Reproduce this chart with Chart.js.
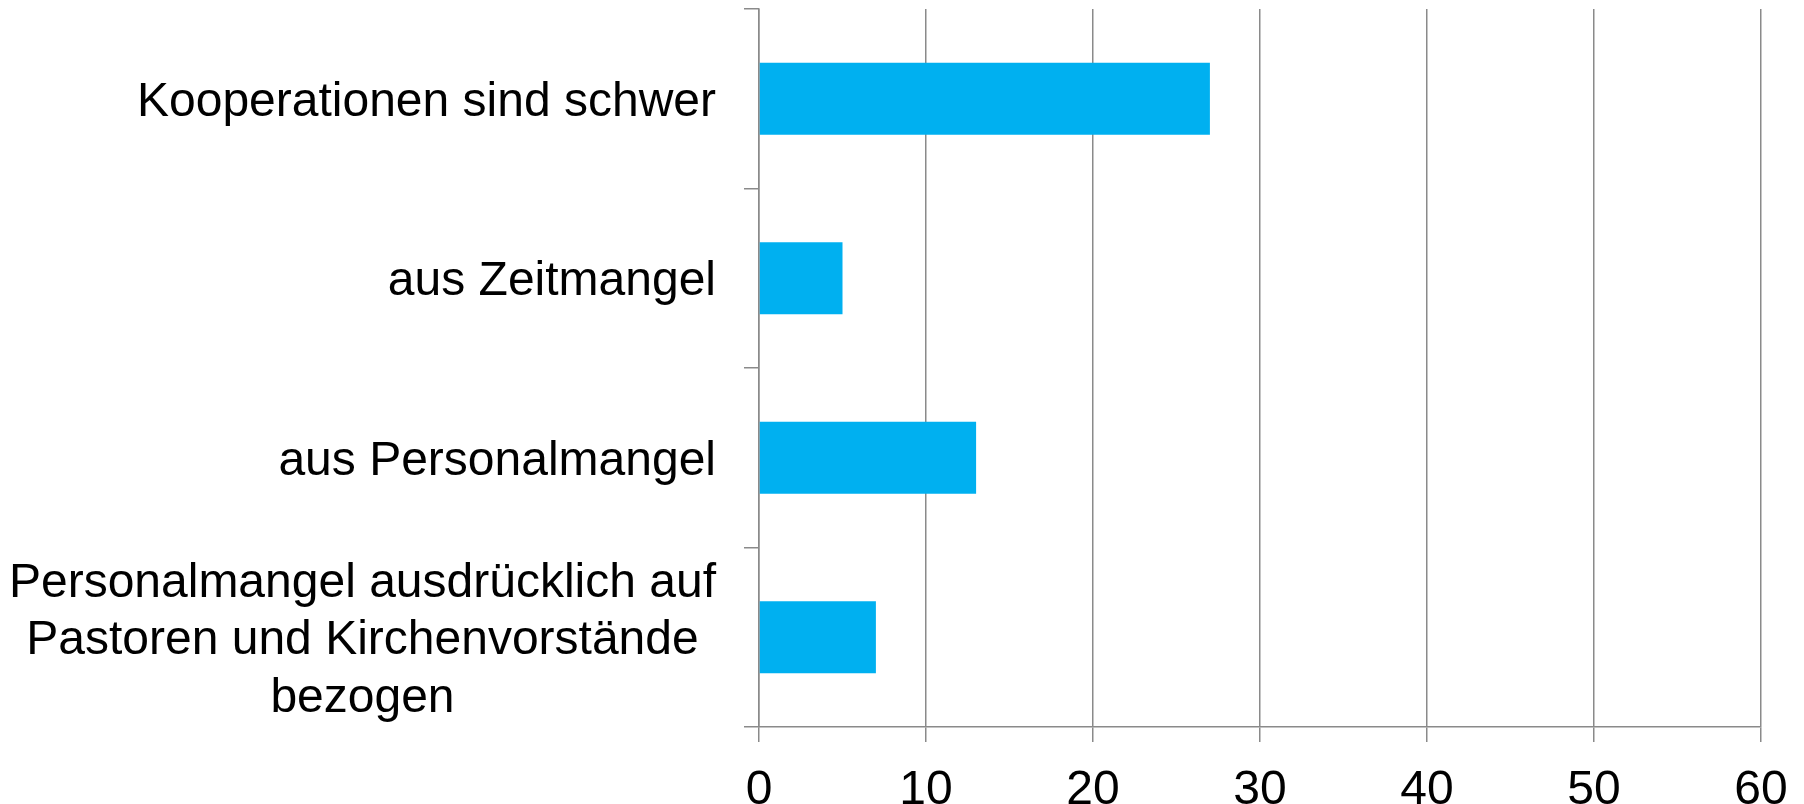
<!DOCTYPE html>
<html>
<head>
<meta charset="utf-8">
<script src="https://cdn.jsdelivr.net/npm/chart.js@4/dist/chart.umd.min.js"></script>
<style>
  html, body { margin: 0; padding: 0; background: #fff; }
  #wrap { width: 1804px; height: 804px; }
</style>
</head>
<body>
<div id="wrap"><canvas id="c" width="1804" height="804"></canvas></div>
<script>
const categories = [
  'Kooperationen sind schwer',
  'aus Zeitmangel',
  'aus Personalmangel',
  ['Personalmangel ausdrücklich auf', 'Pastoren und Kirchenvorstände', 'bezogen']
];
const values = [27, 5, 13, 7];
const xTicks = [0, 10, 20, 30, 40, 50, 60];

const gridColor = '#8a8a8a';
const fontFamily = '"Liberation Sans", Arial, sans-serif';
const fontSize = 48;

// Center the lines of multi-line category labels within their block (Excel style)
const centerMultiline = {
  id: 'centerMultiline',
  afterLayout(chart) {
    const scale = chart.scales.y;
    const items = scale.getLabelItems(chart.chartArea);
    const ctx = chart.ctx;
    items.forEach(it => {
      let [tx, ty] = it.options.translation;
      if (Array.isArray(it.label)) {
        ctx.save();
        ctx.font = `${it.font.size}px ${fontFamily}`;
        const w = Math.max(...it.label.map(l => ctx.measureText(l).width));
        ctx.restore();
        it.options.textAlign = 'center';
        tx -= w / 2;
      }
      it.options.translation = [tx, ty + 4];
    });
  }
};

new Chart(document.getElementById('c'), {
  type: 'bar',
  data: {
    labels: categories,
    datasets: [{
      data: values,
      backgroundColor: '#00B0F0',
      borderWidth: 0,
      categoryPercentage: 0.8,
      barPercentage: 0.5
    }]
  },
  plugins: [centerMultiline],
  options: {
    indexAxis: 'y',
    responsive: false,
    animation: false,
    devicePixelRatio: 1,
    layout: { padding: { top: 9, right: 43, left: 0, bottom: 0 } },
    plugins: { legend: { display: false }, tooltip: { enabled: false } },
    scales: {
      x: {
        type: 'linear',
        position: 'bottom',
        min: 0,
        max: 60,
        afterBuildTicks(scale) { scale.ticks = xTicks.map(v => ({ value: v })); },
        afterFit(scale) {
          scale.height = 77;
          scale.paddingLeft = 0; scale.paddingRight = 0;
        },
        grid: { color: gridColor, lineWidth: 1.5, tickLength: 15, drawTicks: true },
        border: { display: true, color: gridColor, width: 1.5 },
        ticks: {
          color: '#000',
          padding: 20,
          font: { family: fontFamily, size: fontSize },
          maxRotation: 0
        }
      },
      y: {
        type: 'category',
        offset: true,
        afterFit(scale) {
          scale.width = 759;
          scale.paddingTop = 0; scale.paddingBottom = 0;
        },
        grid: { offset: true, drawOnChartArea: false, drawTicks: true, tickLength: 15, color: gridColor, lineWidth: 1.5 },
        border: { display: true, color: gridColor, width: 1.5 },
        ticks: {
          color: '#000',
          padding: 28,
          autoSkip: false,
          font: { family: fontFamily, size: fontSize, lineHeight: 1.2 }
        }
      }
    }
  }
});
</script>
</body>
</html>
